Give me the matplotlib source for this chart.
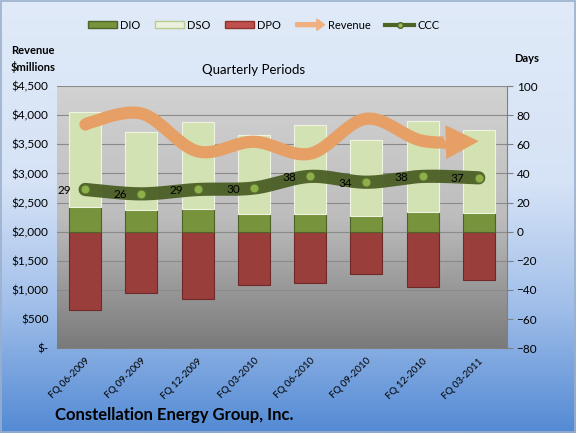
import numpy as np
import matplotlib
matplotlib.use('Agg')
import matplotlib.pyplot as plt
from matplotlib.patches import Patch, Polygon, Rectangle, FancyArrow
from matplotlib.lines import Line2D
from matplotlib.colors import LinearSegmentedColormap
from matplotlib.legend_handler import HandlerPatch

plt.rcParams['font.family'] = ['Lato', 'DejaVu Sans']

periods = ['FQ 06-2009', 'FQ 09-2009', 'FQ 12-2009', 'FQ 03-2010',
           'FQ 06-2010', 'FQ 09-2010', 'FQ 12-2010', 'FQ 03-2011']
dio = [16.7, 14.6, 15.6, 11.9, 12.4, 11.0, 13.5, 12.6]
dso = [65.8, 53.6, 59.5, 54.6, 61.1, 52.0, 62.5, 57.4]
dpo = [-53.5, -42.2, -46.1, -36.5, -35.5, -29.0, -38.0, -33.0]
ccc = [29, 26, 29, 30, 38, 34, 38, 37]
revenue = [3850, 4030, 3380, 3545, 3340, 3940, 3560, 3555]
days_ticks = list(range(-80, 101, 20))
rev_ticks = list(range(0, 4501, 500))

fig = plt.figure(figsize=(5.76, 4.33), dpi=100)

# figure background gradient
bgax = fig.add_axes([0, 0, 1, 1], zorder=-10)
bgax.axis('off')
grad = np.linspace(0, 1, 256).reshape(-1, 1)
cmap_bg = LinearSegmentedColormap.from_list(
    'bg', [(0, '#E0EAF8'), (0.42, '#D6E3F6'), (0.7, '#A3C0EA'), (1, '#538AD4')])
bgax.imshow(grad, aspect='auto', cmap=cmap_bg, extent=[0, 1, 0, 1], origin='upper')
bgax.set_xlim(0, 1); bgax.set_ylim(0, 1)
bgax.add_patch(Rectangle((0.001, 0.002), 0.997, 0.996, fill=False, ec='#9AB0CC', lw=1.2))

# days axis (bars)
ax = fig.add_axes([0.099, 0.196, 0.781, 0.605])
ax.patch.set_visible(False)
cmap_pa = LinearSegmentedColormap.from_list('pa', ['#D2D2D2', '#BDBDBD', '#7A7A7A'])
ax.imshow(grad, aspect='auto', cmap=cmap_pa, extent=[0, 1, 0, 1],
          transform=ax.transAxes, origin='upper', zorder=0)
x = np.arange(len(periods))
w = 0.57
ax.bar(x, dpo, width=w, color='#9A3E3C', ec='#6E2A28', lw=0.8, zorder=2)
ax.bar(x, dio, width=w, color='#77933C', ec='#4F6228', lw=0.8, zorder=2)
ax.bar(x, dso, bottom=dio, width=w, color='#D3E2B3', ec='#EEF4E0', lw=0.8, zorder=2)
ax.set_xlim(-0.5, len(periods) - 0.5)
ax.set_ylim(-80, 100)
ax.set_yticks(days_ticks)
ax.grid(axis='y', color='#8A8A8A', lw=0.8, zorder=0.5)
ax.set_axisbelow(True)
ax.set_xticks(x)
ax.set_xticklabels(periods, rotation=45, ha='right', rotation_mode='anchor', fontsize=7)
ax.tick_params(axis='x', length=0, pad=6)
for s in ['top', 'left']:
    ax.spines[s].set_visible(False)
ax.spines['right'].set_color('#808080')
ax.spines['bottom'].set_color('#808080')

# revenue axis
ax2 = ax.twinx()
ax2.set_ylim(0, 4500)
ax2.set_yticks(rev_ticks)
ax2.set_yticklabels(['$-' if v == 0 else '${:,}'.format(v) for v in rev_ticks])
ax2.yaxis.tick_left()
ax2.tick_params(axis='y', length=0, labelsize=8.5, pad=6)
for s in ax2.spines.values():
    s.set_visible(False)

# restore days ticks on the right (twinx moved them)
ax.yaxis.tick_right()
ax.tick_params(axis='y', direction='out', length=4, color='#808080', labelsize=8.5, pad=3)
ax.spines['right'].set_visible(True)
ax.spines['left'].set_visible(False)


def smooth(trans, xs, ys, n=40):
    P = trans.transform(np.column_stack([xs, ys]))
    Pe = np.vstack([P[0], P, P[-1]])
    pts = []
    for i in range(len(P) - 1):
        p0, p1, p2, p3 = Pe[i], Pe[i + 1], Pe[i + 2], Pe[i + 3]
        c1 = p1 + (p2 - p0) / 6
        c2 = p2 - (p3 - p1) / 6
        t = np.linspace(0, 1, n)[:, None]
        seg = (1 - t) ** 3 * p1 + 3 * (1 - t) ** 2 * t * c1 + 3 * (1 - t) * t ** 2 * c2 + t ** 3 * p2
        pts.append(seg if i == 0 else seg[1:])
    return np.vstack(pts)


# revenue arrow
rev_col = '#E6A066'
pd_ = smooth(ax2.transData, x, revenue)
tip = pd_[-1]
d = tip - pd_[-6]
d = d / np.hypot(*d)
nrm = np.array([-d[1], d[0]])
L, W = 33, 17
base = tip - L * d
keep = ((pd_ - tip) @ d) < -L
line_pts = np.vstack([pd_[keep], base])
ld = ax2.transData.inverted().transform(line_pts)
ax2.plot(ld[:, 0], ld[:, 1], color=rev_col, lw=8.8, solid_capstyle='butt', zorder=3)
start = ax2.transData.inverted().transform(pd_[:1])
ax2.plot(start[:, 0], start[:, 1], 'o', color=rev_col, ms=8.8, mew=0, zorder=3)
head = np.array([tip, base + W * nrm, base - W * nrm])
ax2.add_patch(Polygon(ax2.transData.inverted().transform(head), closed=True,
                      fc=rev_col, ec='none', zorder=3))

# CCC line
ccc_col = '#4A5E25'
cd = smooth(ax.transData, x, ccc)
cdd = ax.transData.inverted().transform(cd)
ax.plot(cdd[:, 0], cdd[:, 1], color=ccc_col, lw=9.5, solid_capstyle='round', zorder=4, alpha=0.95)
ax.plot(x, ccc, 'o', ms=6.5, mfc='#8DB04A', mec='#5A7230', mew=0.8, zorder=5)
for xi, v in zip(x, ccc):
    ax.annotate(str(v), (xi, v), xytext=(-21, -1), textcoords='offset pixels',
                ha='center', va='center', fontsize=8.5, zorder=6)


# legend
def make_arrow(legend, orig_handle, xdescent, ydescent, width, height, fontsize):
    return FancyArrow(-xdescent, -ydescent + height / 2, width, 0, width=height * 0.55,
                      head_width=height * 1.6, head_length=height * 1.1,
                      length_includes_head=True, color='#F0B080', lw=0)


arrow_handle = Patch(color='#F0B080')
handles = [Patch(fc='#77933C', ec='#4F6228'),
           Patch(fc='#EBF1DE', ec='#B8CC90'),
           Patch(fc='#C0504D', ec='#8E3230'),
           arrow_handle,
           Line2D([], [], color='#4F6228', lw=3, marker='o', ms=4, mfc='#9BBB59', mec='#4F6228')]
labels = ['DIO', 'DSO', 'DPO', 'Revenue', 'CCC']
fig.legend(handles, labels, loc='center', bbox_to_anchor=(0.458, 0.942), ncol=5,
           frameon=False, fontsize=8, handlelength=2.6, handleheight=0.6,
           columnspacing=1.3, handletextpad=0.3,
           handler_map={arrow_handle: HandlerPatch(patch_func=make_arrow)})

fig.text(0.44, 0.838, 'Quarterly Periods', ha='center', va='center', fontsize=9.5)
fig.text(0.057, 0.864, 'Revenue\n$millions', ha='center', va='center', fontsize=8,
         fontweight='bold', linespacing=1.45)
fig.text(0.915, 0.866, 'Days', ha='center', va='center', fontsize=8, fontweight='bold')
fig.text(0.095, 0.041, 'Constellation Energy Group, Inc.', ha='left', va='center',
         fontsize=12, fontweight='bold')

fig.savefig('out.png', dpi=100)
